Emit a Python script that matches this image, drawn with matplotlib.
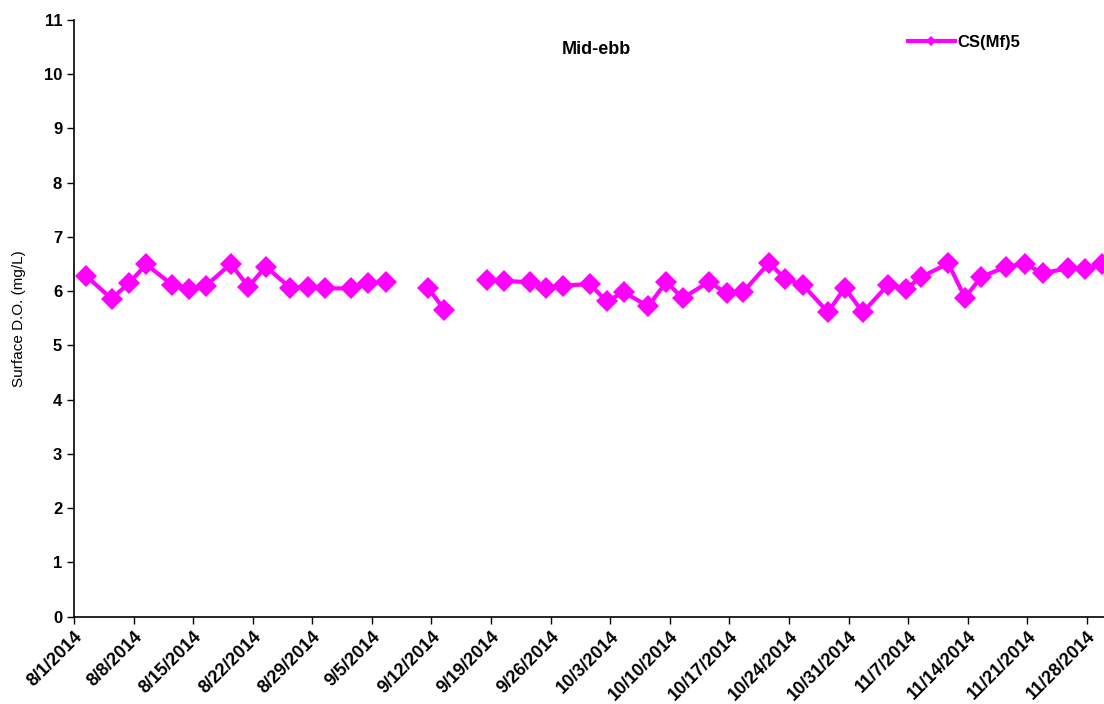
#!/usr/bin/env python3
"""Surface D.O. at mid-ebb for station CS(Mf)5, Aug-Nov 2014."""

import matplotlib
matplotlib.use('Agg')
import matplotlib.pyplot as plt
from matplotlib.lines import Line2D
import numpy as np
import pandas as pd

plt.rcParams['font.family'] = ['Liberation Sans', 'DejaVu Sans']

# sampling times (None value = no sample, leaves a gap in the line)
sample_times = [
    '2014-08-02 10:00', '2014-08-05 10:00', '2014-08-07 10:00', '2014-08-09 12:00',
    '2014-08-12 12:00', '2014-08-14 12:00', '2014-08-16 12:00', '2014-08-19 10:00',
    '2014-08-21 12:00', '2014-08-23 13:00', '2014-08-26 10:00', '2014-08-28 12:00',
    '2014-08-30 12:00', '2014-09-02 14:00', '2014-09-04 14:00', '2014-09-06 16:00',
    '2014-09-09 12:00',
    '2014-09-11 14:00', '2014-09-13 12:00',
    '2014-09-16 12:00',
    '2014-09-18 12:00', '2014-09-20 12:00', '2014-09-23 14:00', '2014-09-25 12:00',
    '2014-09-27 12:00', '2014-09-30 14:00', '2014-10-02 14:00', '2014-10-04 14:00',
    '2014-10-07 11:00', '2014-10-09 14:00', '2014-10-11 12:00', '2014-10-14 14:00',
    '2014-10-16 16:00', '2014-10-18 14:00', '2014-10-21 16:00', '2014-10-23 14:00',
    '2014-10-25 14:00', '2014-10-28 14:00', '2014-10-30 13:00', '2014-11-01 16:00',
    '2014-11-04 16:00', '2014-11-06 17:00', '2014-11-08 13:00', '2014-11-11 17:00',
    '2014-11-13 16:00', '2014-11-15 14:00', '2014-11-18 13:00', '2014-11-20 17:00',
    '2014-11-22 19:00', '2014-11-25 19:00', '2014-11-27 18:00', '2014-11-29 17:00',
]
do_values = [
    6.28, 5.86, 6.14, 6.49, 6.12, 6.03, 6.10, 6.50,
    6.08, 6.45, 6.06, 6.07, 6.05, 6.05, 6.14, 6.16,
    None,
    6.06, 5.66,
    None,
    6.20, 6.19, 6.16, 6.06, 6.10, 6.13, 5.81, 5.98,
    5.72, 6.17, 5.87, 6.17, 5.96, 5.98, 6.52, 6.22,
    6.12, 5.61, 6.06, 5.61, 6.12, 6.04, 6.26, 6.51,
    5.88, 6.26, 6.45, 6.50, 6.33, 6.42, 6.40, 6.50,
]

x_start = '2014-08-01'
x_end = '2014-11-30'
y_ticks = list(range(0, 12))

MAGENTA = '#FF00FF'

times = pd.to_datetime(sample_times)
values = np.array([np.nan if v is None else v for v in do_values])

fig = plt.figure(figsize=(11.04, 7.04), dpi=100)
ax = fig.add_axes([0.067, 0.124, 0.933, 0.848])

ax.plot(times, values, color=MAGENTA, lw=3, marker='D', markersize=11.5,
        markeredgewidth=0)

ax.set_xlim(pd.Timestamp(x_start), pd.Timestamp(x_end))
ax.set_ylim(0, 11)
ax.set_yticks(y_ticks)
ax.set_yticklabels([str(t) for t in y_ticks], fontweight='bold', fontsize=12)

tick_dates = pd.date_range(x_start, x_end, freq='7D')
ax.set_xticks(tick_dates)
ax.set_xticklabels([f'{d.month}/{d.day}/{d.year}' for d in tick_dates],
                   rotation=45, ha='right', rotation_mode='anchor',
                   fontweight='bold', fontsize=13)

ax.tick_params(axis='both', direction='out', length=5, width=1, color='black')
ax.tick_params(axis='x', pad=3)
for side in ('top', 'right'):
    ax.spines[side].set_visible(False)
for side in ('left', 'bottom'):
    ax.spines[side].set_linewidth(1.2)

ax.set_ylabel('Surface D.O. (mg/L)', fontsize=11, labelpad=13)
ax.text(0.507, 0.95, 'Mid-ebb', transform=ax.transAxes, ha='center', va='center',
        fontsize=13, fontweight='bold')

handle = Line2D([], [], color=MAGENTA, lw=3, marker='D', markersize=5,
                markeredgewidth=0)
leg = ax.legend([handle], ['CS(Mf)5'], loc='upper left',
                bbox_to_anchor=(0.795, 1.0), frameon=False, handlelength=2.8,
                handletextpad=0.2, prop={'weight': 'bold', 'size': 12})

fig.savefig('out.png', dpi=100)
